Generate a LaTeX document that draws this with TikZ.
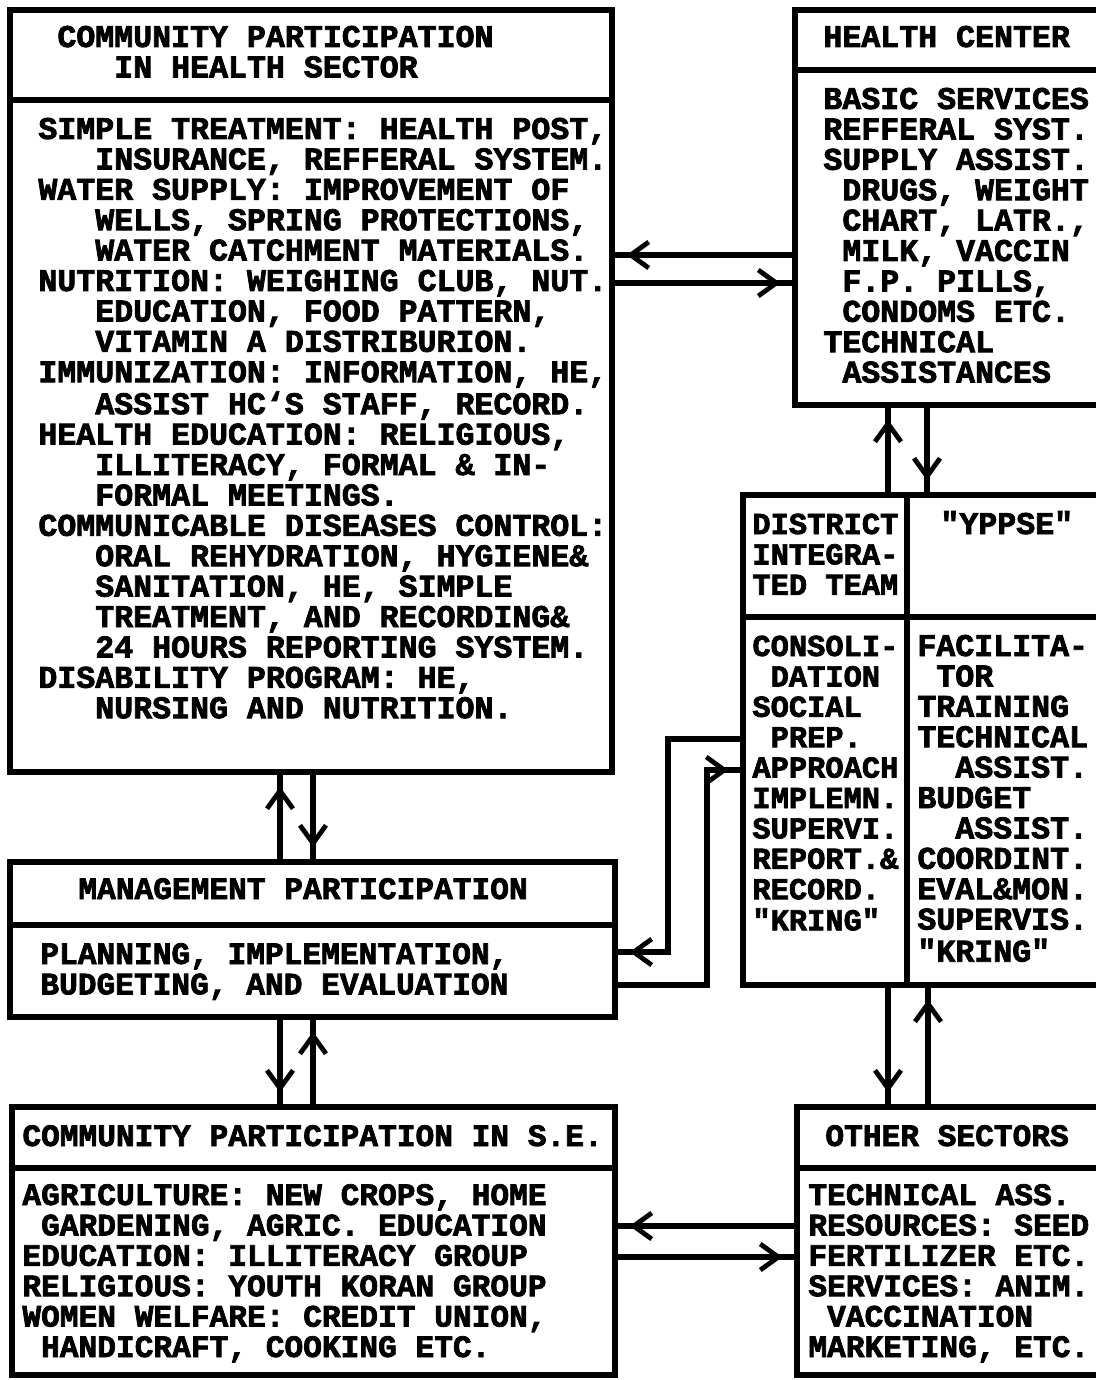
\documentclass[tikz,border=0pt]{standalone}
\usepackage{fontspec}
\newfontfamily\dotfont{Liberation Mono Bold}[FakeBold=2.4]
\usetikzlibrary{arrows.meta,fit,decorations.markings}

% one left-aligned column of lines; the baseline is that of the first line
\newcommand\rows[1]{\begin{tabular}[t]{@{}l@{}}#1\end{tabular}}
% indentation by a number of monospaced characters
\newcommand\ind[1]{\phantom{#1}}

\tikzset{
  frame/.style={draw, line width=2.6pt, inner sep=0pt, line join=miter},
  rule/.style={line width=2.6pt},
  txt/.style={font=\dotfont\fontsize{15.8}{15.2}\selectfont, inner sep=0pt, anchor=base west},
  txtn/.style={font=\dotfont\fontsize{15.2}{15.2}\selectfont, inner sep=0pt, anchor=base west},
  txtb/.style={font=\dotfont\fontsize{15.6}{15.2}\selectfont, inner sep=0pt, anchor=base west},
  conn/.style={line width=2.6pt, postaction={decorate},
    decoration={markings, mark=at position -6pt with
      {\arrow{Straight Barb[length=9pt,width=13pt,line width=2.4pt]}}}},
}

\begin{document}
\begin{tikzpicture}[x=0.5pt,y=-0.5pt]
\clip (0,0) rectangle (1096,1380);
\fill[white] (0,0) rectangle (1096,1380);

% ---------- boxes ----------
\node[frame, fit={(10,10)(612,772)}] (hs) {};
\draw[rule] (hs.west |- 0,100) -- (hs.east |- 0,100);

\node[frame, fit={(795,10)(1104,405)}] (hc) {};
\draw[rule] (hc.west |- 0,70) -- (hc.east |- 0,70);

\node[frame, fit={(743,495)(1104,985)}] (dit) {};
\draw[rule] (dit.west |- 0,617) -- (dit.east |- 0,617);
\draw[rule] (dit.north -| 907,0) -- (dit.south -| 907,0);

\node[frame, fit={(10,862)(615,1017)}] (mg) {};
\draw[rule] (mg.west |- 0,925) -- (mg.east |- 0,925);

\node[frame, fit={(12,1107)(615,1375)}] (se) {};
\draw[rule] (se.west |- 0,1168) -- (se.east |- 0,1168);

\node[frame, fit={(797,1107)(1104,1375)}] (os) {};
\draw[rule] (os.west |- 0,1168) -- (os.east |- 0,1168);

% ---------- texts ----------
\node[txt] (hsT) at (57,47) {\rows{COMMUNITY PARTICIPATION\\\ind{XXX}IN HEALTH SECTOR}};
\node[txt] (hsB) at (38,139) {\rows{%
SIMPLE TREATMENT: HEALTH POST,\\
\ind{XXX}INSURANCE, REFFERAL SYSTEM.\\
WATER SUPPLY: IMPROVEMENT OF\\
\ind{XXX}WELLS, SPRING PROTECTIONS,\\
\ind{XXX}WATER CATCHMENT MATERIALS.\\
NUTRITION: WEIGHING CLUB, NUT.\\
\ind{XXX}EDUCATION, FOOD PATTERN,\\
\ind{XXX}VITAMIN A DISTRIBURION.\\
IMMUNIZATION: INFORMATION, HE,\\
\ind{XXX}ASSIST HC‘S STAFF, RECORD.\\
HEALTH EDUCATION: RELIGIOUS,\\
\ind{XXX}ILLITERACY, FORMAL \& IN-\\
\ind{XXX}FORMAL MEETINGS.\\
COMMUNICABLE DISEASES CONTROL:\\
\ind{XXX}ORAL REHYDRATION, HYGIENE\&\\
\ind{XXX}SANITATION, HE, SIMPLE\\
\ind{XXX}TREATMENT, AND RECORDING\&\\
\ind{XXX}24 HOURS REPORTING SYSTEM.\\
DISABILITY PROGRAM: HE,\\
\ind{XXX}NURSING AND NUTRITION.}};

\node[txt] (hcT) at (823,47) {HEALTH CENTER};
\node[txt] (hcB) at (823,109) {\rows{%
BASIC SERVICES\\
REFFERAL SYST.\\
SUPPLY ASSIST.\\
\ind{X}DRUGS, WEIGHT\\
\ind{X}CHART, LATR.,\\
\ind{X}MILK, VACCIN\\
\ind{X}F.P. PILLS,\\
\ind{X}CONDOMS ETC.\\
TECHNICAL\\
\ind{X}ASSISTANCES}};

\node[txtn] (ditLT) at (752,534) {\rows{DISTRICT\\INTEGRA-\\TED TEAM}};
\node[txt] (ditRT) at (940,534) {"YPPSE"};
\node[txtn] (ditLB) at (752,656) {\rows{%
CONSOLI-\\
\ind{X}DATION\\
SOCIAL\\
\ind{X}PREP.\\
APPROACH\\
IMPLEMN.\\
SUPERVI.\\
REPORT.\&\\
RECORD.\\
"KRING"}};
\node[txt] (ditRB) at (917,656) {\rows{%
FACILITA-\\
\ind{X}TOR\\
TRAINING\\
TECHNICAL\\
\ind{XX}ASSIST.\\
BUDGET\\
\ind{XX}ASSIST.\\
COORDINT.\\
EVAL\&MON.\\
SUPERVIS.\\
"KRING"}};

\node[txtb] (mgT) at (78,899) {MANAGEMENT PARTICIPATION};
\node[txtb] (mgB) at (40,964) {\rows{PLANNING, IMPLEMENTATION,\\BUDGETING, AND EVALUATION}};

\node[txtb] (seT) at (22,1146) {COMMUNITY PARTICIPATION IN S.E.};
\node[txtb] (seB) at (22,1205) {\rows{%
AGRICULTURE: NEW CROPS, HOME\\
\ind{X}GARDENING, AGRIC. EDUCATION\\
EDUCATION: ILLITERACY GROUP\\
RELIGIOUS: YOUTH KORAN GROUP\\
WOMEN WELFARE: CREDIT UNION,\\
\ind{X}HANDICRAFT, COOKING ETC.}};

\node[txtb] (osT) at (825,1146) {OTHER SECTORS};
\node[txtb] (osB) at (808,1205) {\rows{%
TECHNICAL ASS.\\
RESOURCES: SEED\\
FERTILIZER ETC.\\
SERVICES: ANIM.\\
\ind{X}VACCINATION\\
MARKETING, ETC.}};

% ---------- connectors ----------
\draw[conn] (hc.west |- 0,255) -- (hs.east |- 0,255);
\draw[conn] (hs.east |- 0,283) -- (hc.west |- 0,283);

\draw[conn] (dit.north -| 888,0) -- (hc.south -| 888,0);
\draw[conn] (hc.south -| 927,0) -- (dit.north -| 927,0);

\draw[conn] (mg.north -| 280,0) -- (hs.south -| 280,0);
\draw[conn] (hs.south -| 313,0) -- (mg.north -| 313,0);

\draw[conn] (mg.south -| 280,0) -- (se.north -| 280,0);
\draw[conn] (se.north -| 313,0) -- (mg.south -| 313,0);

\draw[conn] (dit.south -| 888,0) -- (os.north -| 888,0);
\draw[conn] (os.north -| 928,0) -- (dit.south -| 928,0);

\draw[conn] (os.west |- 0,1226) -- (se.east |- 0,1226);
\draw[conn] (se.east |- 0,1257) -- (os.west |- 0,1257);

\draw[conn] (dit.west |- 0,739) -| (668,952) -- (mg.east |- 0,952);
\draw[conn] (mg.east |- 0,985) -| (707,770) -- (dit.west |- 0,770);
\end{tikzpicture}
\end{document}
